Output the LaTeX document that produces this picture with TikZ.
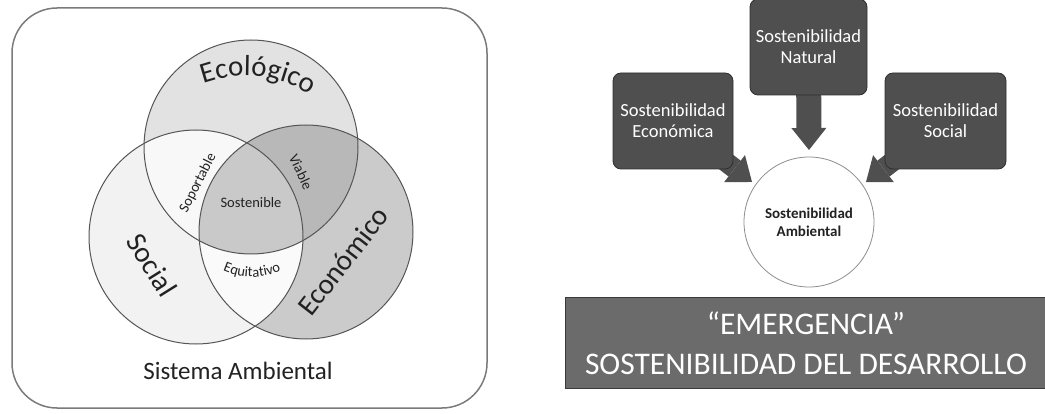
\documentclass[tikz,border=0pt]{standalone}
\usepackage{fontspec}
\setmainfont{Carlito}
\usetikzlibrary{calc,decorations.text}
\pgfdeclarelayer{background}
\pgfsetlayers{background,main}
\definecolor{frameC}{HTML}{7A7A7A}
\definecolor{ecoF}{HTML}{E2E2E2}
\definecolor{socF}{HTML}{F2F2F2}
\definecolor{ecnF}{HTML}{CBCBCB}
\definecolor{ecosocF}{HTML}{F8F8F8}
\definecolor{ecoecnF}{HTML}{B8B8B8}
\definecolor{socecnF}{HTML}{FAFAFA}
\definecolor{cenF}{HTML}{C9C9C9}
\definecolor{lineC}{HTML}{555555}
\definecolor{txtC}{HTML}{222222}
\definecolor{boxF}{HTML}{4F4F4F}
\definecolor{boxD}{HTML}{2F2F2F}
\definecolor{banF}{HTML}{6B6B6B}
\definecolor{banD}{HTML}{3A3A3A}
\tikzset{
  vennline/.style={draw=lineC, line width=1pt},
  biglabel/.style={font=\fontsize{29}{29}\selectfont, text=txtC, inner sep=0pt},
  smalllabel/.style={font=\fontsize{14.5}{14.5}\selectfont, text=txtC, inner sep=0pt},
  darkbox/.style={draw=boxD, fill=boxF, line width=0.8pt, rounded corners=8pt, text=white,
    align=center, inner sep=0pt, font=\fontsize{18.5}{21}\selectfont},
  ambcircle/.style={circle, draw=black!45, line width=0.8pt, fill=white, align=center,
    inner sep=0pt, minimum size=130pt, text=txtC, font=\bfseries\fontsize{15}{18}\selectfont},
  banner/.style={draw=banD, fill=banF, line width=1pt, inner sep=0pt, minimum width=482pt,
    minimum height=90pt, text=white, align=center, font=\fontsize{31.5}{40}\selectfont},
  blockarrow/.style={draw=boxF, line cap=butt},
  headfill/.style={fill=boxF}
}
\begin{document}
\begin{tikzpicture}[x=1pt,y=1pt]
\useasboundingbox (0,0) rectangle (1045,-414);
% frame
\draw[draw=frameC, line width=1.5pt, rounded corners=45pt] (12,-8) rectangle (487,-408);
% Venn centres
\coordinate (ceco) at (251,-147);
\coordinate (csoc) at (196,-237);
\coordinate (cecn) at (306,-232);
\fill[ecoF] (ceco) circle[radius=107];
\fill[socF] (csoc) circle[radius=107];
\fill[ecnF] (cecn) circle[radius=107];
\begin{scope}\clip (ceco) circle[radius=107]; \fill[ecosocF] (csoc) circle[radius=107]; \end{scope}
\begin{scope}\clip (ceco) circle[radius=107]; \fill[ecoecnF] (cecn) circle[radius=107]; \end{scope}
\begin{scope}\clip (csoc) circle[radius=107]; \fill[socecnF] (cecn) circle[radius=107]; \end{scope}
\begin{scope}\clip (ceco) circle[radius=107]; \clip (csoc) circle[radius=107]; \fill[cenF] (cecn) circle[radius=107]; \end{scope}
\draw[vennline] (ceco) circle[radius=107];
\draw[vennline] (csoc) circle[radius=107];
\draw[vennline] (cecn) circle[radius=107];
% labels
\coordinate (tcen) at (245,-200);
\path[decorate, decoration={text along path, text align=center,
  text={|\fontsize{29}{29}\selectfont\color{txtC}|Ecológico}}]
  ($(tcen)+(116:124)$) arc[start angle=116, end angle=52, radius=124];
\node[biglabel, rotate=-58] (lsoc) at (152,-265) {Social};
\node[biglabel, rotate=52] (lecn) at (343,-261) {Económico};
\node[smalllabel, rotate=63] (lsop) at (198,-183) {Soportable};
\node[smalllabel, rotate=-65] (lvia) at (301,-172) {Viable};
\node[smalllabel] (lsos) at (251,-203) {Sostenible};
\coordinate (ecen) at (252,-205);
\path[decorate, decoration={text along path, text align=center,
  text={|\fontsize{14.5}{14.5}\selectfont\color{txtC}|Equitativo}}]
  ($(ecen)+(230:72)$) arc[start angle=230, end angle=310, radius=72];
\node[font=\fontsize{25}{25}\selectfont, text=txtC, inner sep=0pt] (sis) at (238,-371) {Sistema Ambiental};
% right diagram
\node[darkbox, minimum width=117pt, minimum height=96pt] (nat) at (808.5,-47) {Sostenibilidad\\Natural};
\node[darkbox, minimum width=120pt, minimum height=96pt] (eb) at (673,-121) {Sostenibilidad\\Económica};
\node[darkbox, minimum width=121pt, minimum height=96pt] (sb) at (945.5,-121) {Sostenibilidad\\Social};
\node[ambcircle] (amb) at (809,-222) {Sostenibilidad\\Ambiental};
\coordinate (t1) at (809,-150);
\coordinate (t2) at (752,-182);
\coordinate (t3) at (866,-182);
\begin{pgfonlayer}{background}
  \coordinate (h1) at ($(t1)!22pt!(nat.center)$);
  \draw[blockarrow, line width=25pt] (nat.center) -- (h1);
  \fill[headfill] ($(h1)!17.5pt!90:(t1)$) -- (t1) -- ($(h1)!17.5pt!-90:(t1)$) -- cycle;
  \coordinate (h2) at ($(t2)!22pt!(eb.center)$);
  \draw[blockarrow, line width=20pt] (eb.center) -- (h2);
  \fill[headfill] ($(h2)!17pt!90:(t2)$) -- (t2) -- ($(h2)!17pt!-90:(t2)$) -- cycle;
  \coordinate (h3) at ($(t3)!22pt!(sb.center)$);
  \draw[blockarrow, line width=20pt] (sb.center) -- (h3);
  \fill[headfill] ($(h3)!17pt!90:(t3)$) -- (t3) -- ($(h3)!17pt!-90:(t3)$) -- cycle;
\end{pgfonlayer}
\node[banner] (em) at (806,-343) {“EMERGENCIA”\\SOSTENIBILIDAD DEL DESARROLLO};
\end{tikzpicture}
\end{document}
